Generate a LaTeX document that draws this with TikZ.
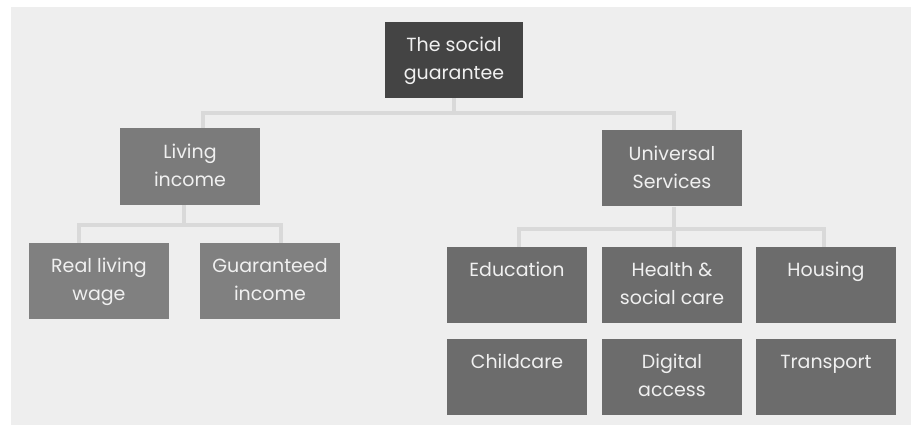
\documentclass[tikz,border=0pt]{standalone}
\usepackage{fontspec}
\setmainfont{Poppins}
\usetikzlibrary{calc,positioning}
\definecolor{bggray}{HTML}{EEEEEE}
\definecolor{linkgray}{HTML}{D9D9D9}
\definecolor{rootgray}{HTML}{444444}
\definecolor{livinggray}{HTML}{7B7B7B}
\definecolor{univgray}{HTML}{707070}
\definecolor{leftgray}{HTML}{808080}
\definecolor{rightgray}{HTML}{6C6C6C}
\definecolor{boxtext}{HTML}{F0F0F0}
\tikzset{
  box/.style={rectangle, minimum width=140pt, minimum height=76pt, inner sep=0pt,
    align=center, text=boxtext, font=\fontsize{19}{28}\selectfont},
  link/.style={line width=4pt, draw=linkgray}
}

\begin{document}
\begin{tikzpicture}[x=1pt,y=1pt]

  \useasboundingbox (0,0) rectangle (911,425);
  \fill[bggray] (11,0) rectangle (911,418);

  \node (root) [box, fill=rootgray, minimum width=138pt] at (454,365) {\strut The social\\\strut guarantee};

  \node (living) [box, fill=livinggray, minimum height=77pt] at (190,258.5) {\strut Living\\\strut income};
  \node (univ) [box, fill=univgray] at (672,256.5) {\strut Universal\\\strut Services};

  \node (wage) [box, fill=leftgray] at (99,144) {\strut Real living\\\strut wage};
  \node (income) [box, fill=leftgray] at (270,144) {\strut Guaranteed\\\strut income};

  % services, two rows
  \foreach \n/\x/\a/\b in {edu/517/Education/{}, health/672/{Health \&}/{social care}, housing/826/Housing/{}}
    \node (\n) [box, fill=rightgray] at (\x,140) {\strut\a\\\strut\b};
  \foreach \n/\x/\a/\b in {child/517/Childcare/{}, digital/672/Digital/access, transport/826/Transport/{}}
    \node (\n) [box, fill=rightgray] at (\x,48) {\strut\a\\\strut\b};

  \coordinate (bus0) at (454,312);
  \coordinate (bus1) at (184,200);
  \coordinate (bus2) at (674,196);

  \draw[link] (root.south) -- (bus0);
  \draw[link] ([xshift=13pt]living.north) |- (bus0) -| ([xshift=2pt]univ.north);

  \draw[link] ([xshift=-6pt]living.south) -- (bus1);
  \draw[link] ([xshift=-20pt]wage.north) |- (bus1) -| ([xshift=11pt]income.north);

  \draw[link] ([xshift=2pt]univ.south) -- ([xshift=2pt]health.north);
  \draw[link] ([xshift=2pt]edu.north) |- (bus2) -| ([xshift=-2pt]housing.north);

\end{tikzpicture}
\end{document}
